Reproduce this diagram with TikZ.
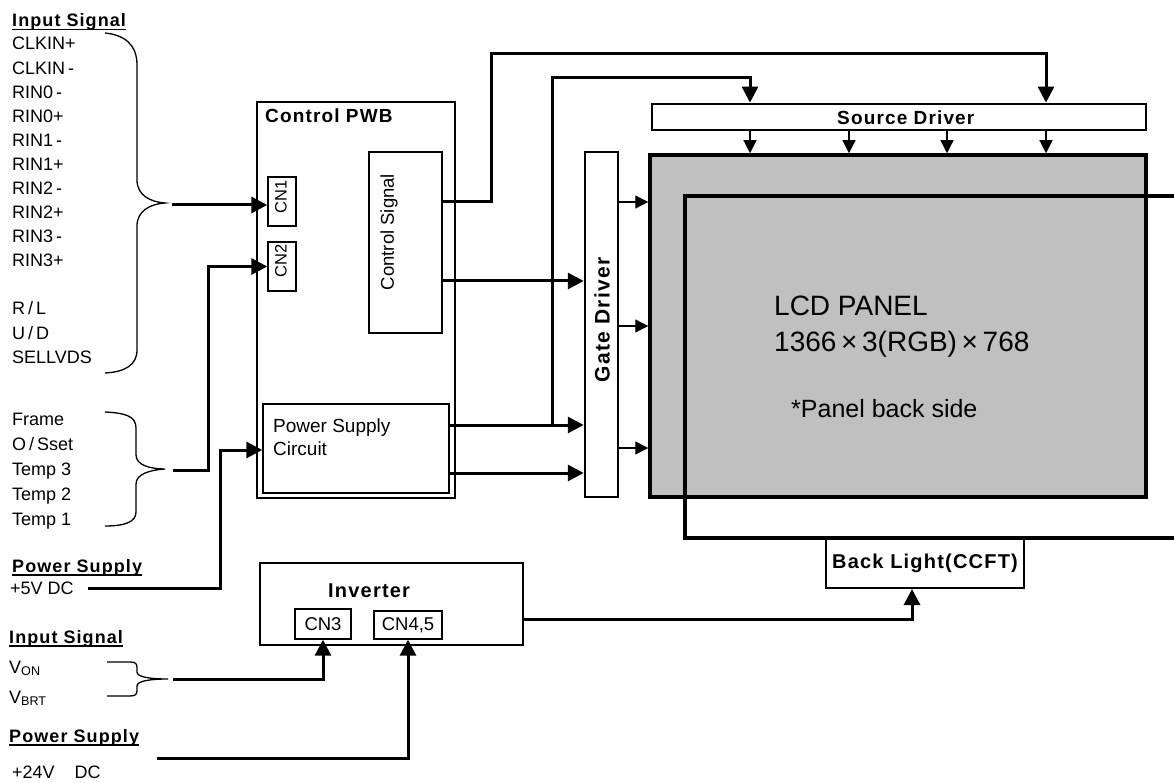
\documentclass[tikz,border=0pt]{standalone}
\usepackage{fontspec}
\setmainfont{Liberation Sans}
\newfontfamily\bsp[LetterSpace=6]{Liberation Sans}
\usetikzlibrary{arrows.meta}
\newcommand\myul[1]{\setbox0\hbox{#1}\rlap{\rule[-3.5pt]{\wd0}{1.8pt}}\box0}
\begin{document}
\begin{tikzpicture}[x=1pt,y=-1pt,
  sig/.style={anchor=base west,inner sep=0pt,font=\fontsize{18}{22}\selectfont},
  head/.style={anchor=base west,inner sep=0pt,font=\bsp\bfseries\fontsize{18}{22}\selectfont},
  blbl/.style={inner sep=0pt,font=\bsp\bfseries\fontsize{20}{24}\selectfont},
  box/.style={draw,inner sep=0pt,line width=2.5pt},
  tbox/.style={draw,inner sep=0pt,line width=1.4pt},
  conn/.style={line width=3pt,-{Triangle[length=16pt,width=16pt]}},
  plainln/.style={line width=3pt},
  thinarr/.style={line width=1.2pt,-{Triangle[length=13pt,width=13pt]}},
  brace/.style={line width=1.3pt},
  big/.style={anchor=base west,inner sep=0pt,font=\fontsize{28}{32}\selectfont}]
\useasboundingbox (0,0) rectangle (1174,783);

% ---------- left texts ----------
\node[head] (h1) at (12,27) {\myul{Input Signal}};
\foreach \t [count=\i] in {CLKIN+,CLKIN\,-,RIN0\,-,RIN0+,RIN1\,-,RIN1+,RIN2\,-,RIN2+,RIN3\,-,RIN3+}
  \node[sig] (s\i) at (12,{50+24.1*(\i-1)}) {\t};
\node[sig] (rl) at (12,315) {R\,/\,L};
\node[sig] (ud) at (12,339) {U\,/\,D};
\node[sig] (sel) at (12,363) {SELLVDS};
\node[sig] (fr) at (12,425) {Frame};
\node[sig] (os) at (12,450) {O\,/\,Sset};
\node[sig] (t3) at (12,475) {Temp 3};
\node[sig] (t2) at (12,500) {Temp 2};
\node[sig] (t1) at (12,525) {Temp 1};
\node[head] (h2) at (12,572) {\myul{Power Supply}};
\node[sig] (v5) at (10,594) {+5V DC};
\node[head] (h3) at (9,643) {\myul{Input Signal}};
\node[sig] (von) at (9,673) {V\textsubscript{ON}};
\node[sig] (vbrt) at (9,703) {V\textsubscript{BRT}};
\node[head] (h4) at (9,742) {\myul{Power Supply}};
\node[sig] (v24) at (12,778) {+24V\hspace{20pt}DC};

% braces
\draw[brace] (105,33) .. controls (125,35) and (137,45) .. (137,65) -- (137,180)
  .. controls (137,195) and (150,202) .. (165,203)
  .. controls (150,204) and (137,211) .. (137,226) -- (137,350)
  .. controls (137,365) and (125,372) .. (105,373);
\draw[brace] (105,412) .. controls (125,413) and (136,416) .. (136,428) -- (136,455)
  .. controls (136,465) and (150,469) .. (165,469)
  .. controls (150,470) and (136,474) .. (136,484) -- (136,512)
  .. controls (136,522) and (125,526) .. (105,526);
\draw[brace] (107,662) -- (130,662) .. controls (136,662) and (137,664) .. (137,668) -- (137,672)
  .. controls (137,677) and (150,679) .. (168,679)
  .. controls (150,679) and (137,681) .. (137,686) -- (137,690)
  .. controls (137,694) and (136,696) .. (130,696) -- (107,696);

% ---------- control PWB ----------
\node[box,minimum width=198pt,minimum height=396pt] (pwb) at (356,300) {};
\node[blbl,anchor=base west,font=\bsp\bfseries\fontsize{19}{23}\selectfont] (pwbl) at (265,123) {Control PWB};
\node[tbox,minimum width=28pt,minimum height=49pt] (cn1) at (282,201.5) {};
\node[rotate=90,inner sep=0pt,font=\fontsize{16.5}{20}\selectfont] (cn1l) at (281,197) {CN1};
\node[tbox,minimum width=28pt,minimum height=49pt] (cn2) at (282,266.5) {};
\node[rotate=90,inner sep=0pt,font=\fontsize{16.5}{20}\selectfont] (cn2l) at (281,261) {CN2};
\node[tbox,minimum width=73pt,minimum height=181pt] (cs) at (405.5,242.5) {};
\node[rotate=90,inner sep=0pt,font=\fontsize{18.5}{22}\selectfont] (csl) at (389,232) {Control Signal};
\node[tbox,minimum width=186pt,minimum height=89pt] (psc) at (356,448.5) {};
\node[sig,font=\fontsize{19}{23}\selectfont] (pscl1) at (273,432) {Power Supply};
\node[sig,font=\fontsize{19}{23}\selectfont] (pscl2) at (273,455) {Circuit};

% ---------- drivers and panel ----------
\node[draw,line width=3.5pt,fill={rgb,255:red,192;green,192;blue,192},inner sep=0pt,
      minimum width=496pt,minimum height=342pt] (panel) at (898,326) {};
\draw[line width=3.2pt] (1174,196) -- (685,196) -- (685,538) -- (1174,538);
\node[big] (lcd1) at (774,316) {LCD PANEL};
\node[big] (lcd2) at (774,351) {1366\,×\,3(RGB)\,×\,768};
\node[anchor=base west,inner sep=0pt,font=\fontsize{25}{29}\selectfont] (lcd3) at (791,417) {*Panel back side};

\node[draw,line width=2.8pt,inner sep=0pt,minimum width=494pt,minimum height=26pt] (source) at (899,117) {};
\node[blbl,font=\bsp\bfseries\fontsize{19}{23}\selectfont,anchor=base west] (sourcel) at (837,125) {Source Driver};
\node[box,minimum width=33pt,minimum height=345pt] (gate) at (601.5,324.5) {};
\node[rotate=90,inner sep=0pt,font=\bsp\bfseries\fontsize{21}{25}\selectfont] (gatel) at (602,320) {Gate Driver};

\node[draw,line width=2pt,inner sep=0pt,minimum width=198pt,minimum height=50pt,
      font=\bsp\bfseries\fontsize{20}{24}\selectfont] (bl) at (925,563) {Back Light(CCFT)};

% ---------- inverter ----------
\node[box,minimum width=263pt,minimum height=82pt] (inv) at (391.5,604) {};
\node[blbl,anchor=base west] (invl) at (328,597) {Inverter};
\node[tbox,minimum width=56pt,minimum height=30pt,font=\fontsize{18.5}{22}\selectfont] (cn3) at (323,624) {CN3};
\node[tbox,minimum width=68pt,minimum height=28pt,font=\fontsize{18.5}{22}\selectfont] (cn45) at (408,625) {CN4,5};

% ---------- helper coordinates ----------
\coordinate (b1) at (172,205);
\coordinate (b2) at (173,470);
\coordinate (b3) at (173,679);
\coordinate (p5) at (88,588);
\coordinate (p24) at (157,758);
\coordinate (ya) at (0,202);
\coordinate (yb) at (0,281);
\coordinate (yc) at (0,425);
\coordinate (yd) at (0,473);
\coordinate (ye) at (0,326);
\coordinate (yf) at (0,448);
\coordinate (yg) at (0,619);
\coordinate (yh) at (0,450);
\coordinate (xa) at (750,0);
\coordinate (xb) at (849,0);
\coordinate (xc) at (947,0);
\coordinate (xd) at (1046,0);
\coordinate (xe) at (912,0);

% ---------- connectors ----------
\draw[conn] (b1) -- (b1 -| cn1.west);
\draw[conn] (b2) -- (208,470) |- (cn2.west);
\draw[conn] (p5) -- (220,588) -- (220,450) -- (yh -| psc.west);
\draw[conn] (ya -| cs.east) -- (491,202) -- (491,54) -- (1046,54) -- (xd |- source.north);
\draw[conn] (yb -| cs.east) -- (yb -| gate.west);
\draw[conn] (yc -| psc.east) -- (yc -| gate.west);
\draw[conn] (552,425) -- (552,78) -- (750,78) -- (xa |- source.north);
\draw[conn] (yd -| psc.east) -- (yd -| gate.west);
\foreach \yy in {ya,ye,yf}
  \draw[thinarr] (\yy -| gate.east) -- (\yy -| panel.west);
\foreach \xx in {xa,xb,xc,xd}
  \draw[thinarr] (\xx |- source.south) -- (\xx |- panel.north);
\draw[conn] (yg -| inv.east) -- (912,619) -- (xe |- bl.south);
\draw[conn] (b3) -| (cn3.south);
\draw[conn] (p24) -| (cn45.south);
\end{tikzpicture}
\end{document}
